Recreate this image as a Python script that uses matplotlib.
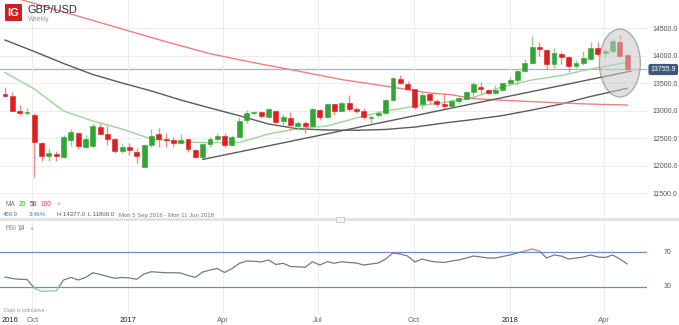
import matplotlib
matplotlib.use('Agg')
import matplotlib.pyplot as plt
import matplotlib.dates as mdates
from matplotlib.patches import Ellipse, Rectangle
import numpy as np
import pandas as pd

plt.rcParams['font.family'] = ['Liberation Sans', 'DejaVu Sans']

# weekly GBP/USD candles, Mon 5 Sep 2016 .. Mon 23 Apr 2018
opens = [13305, 13270, 13000, 12955, 12920, 12410, 12180, 12220, 12165, 12470,
         12600, 12350, 12360, 12705, 12580, 12490, 12270, 12340, 12255, 11980,
         12380, 12575, 12490, 12470, 12410, 12480, 12290, 12165, 12400, 12480,
         12545, 12380, 12530, 12830, 12950, 12970, 12880, 13000, 12805, 12860,
         12725, 12770, 12725, 13015, 12885, 13115, 13000, 13135, 13040, 13000,
         12860, 12920, 12955, 13195, 13570, 13480, 13390, 13120, 13300, 13180,
         13125, 13085, 13180, 13215, 13345, 13435, 13375, 13330, 13380, 13500,
         13565, 13730, 13860, 14150, 14100, 13845, 14025, 13985, 13815, 13860,
         13935, 14135, 14045, 14090, 14245, 14010]
highs = [13440, 13340, 13110, 13050, 12955, 12440, 12330, 12270, 12560, 12670,
         12620, 12560, 12780, 12775, 12720, 12500, 12410, 12420, 12330, 12390,
         12670, 12690, 12590, 12530, 12575, 12490, 12300, 12420, 12530, 12600,
         12600, 12560, 12880, 13010, 12995, 12990, 13050, 13010, 12935, 12980,
         12815, 12820, 13045, 13030, 13130, 13130, 13160, 13290, 13060, 13050,
         12920, 12990, 13220, 13615, 13655, 13540, 13400, 13340, 13340, 13220,
         13320, 13220, 13270, 13355, 13530, 13525, 13400, 13460, 13510, 13610,
         13745, 13945, 14350, 14245, 14130, 14145, 14070, 14000, 13930, 14090,
         14245, 14245, 14125, 14295, 14377, 14030]
lows = [13245, 12990, 12920, 12925, 11800, 12090, 12090, 12080, 12150, 12360,
        12300, 12320, 12340, 12560, 12370, 12230, 12230, 12200, 12045, 11980,
        12340, 12340, 12350, 12350, 12400, 12250, 12135, 12115, 12350, 12455,
        12350, 12365, 12520, 12770, 12920, 12870, 12870, 12775, 12740, 12650,
        12650, 12590, 12700, 12840, 12860, 12930, 12990, 13000, 12950, 12850,
        12775, 12880, 12940, 13180, 13480, 13380, 13030, 13040, 13120, 13075,
        13040, 13060, 13130, 13200, 13225, 13300, 13300, 13300, 13360, 13460,
        13460, 13700, 13850, 14000, 13765, 13770, 13855, 13710, 13780, 13840,
        13920, 14000, 13965, 14050, 13980, 13730]
closes = [13265, 13000, 12960, 12975, 12440, 12180, 12225, 12185, 12515, 12610,
          12360, 12485, 12725, 12580, 12490, 12275, 12345, 12285, 12185, 12375,
          12545, 12490, 12475, 12410, 12465, 12300, 12165, 12395, 12480, 12545,
          12380, 12525, 12810, 12950, 12985, 12905, 13035, 12800, 12890, 12745,
          12780, 12725, 13030, 12885, 13115, 12995, 13145, 13025, 13000, 12890,
          12895, 12955, 13195, 13600, 13510, 13395, 13075, 13295, 13195, 13120,
          13080, 13175, 13225, 13345, 13480, 13390, 13330, 13380, 13500, 13565,
          13730, 13860, 14160, 14125, 13845, 14040, 13985, 13815, 13860, 13950,
          14135, 14030, 14090, 14265, 14000, 13756]

# moving averages, sampled every few weeks (index into the candles)
ma_idx = [0, 4, 8, 12, 16, 20, 24, 28, 32, 36, 40, 44, 48, 52, 56, 60, 64, 68, 72, 76, 80, 85]
ma20 = [13695, 13395, 12995, 12813, 12668, 12486, 12432, 12419, 12423, 12577, 12675,
        12723, 12868, 12995, 13081, 13150, 13240, 13440, 13558, 13640, 13758, 13880]
ma50 = [14285, 14076, 13858, 13658, 13504, 13359, 13195, 13050, 12910, 12759, 12672,
        12650, 12645, 12660, 12704, 12777, 12841, 12913, 13013, 13122, 13259, 13408]
ma100_idx = [0, 4, 10, 16, 22, 28, 34, 40, 46, 52, 58, 61, 64, 70, 73, 76, 79, 82, 84, 85]
ma100 = [15104, 14948, 14718, 14485, 14254, 14036, 13873, 13722, 13566, 13446, 13322,
         13290, 13219, 13177, 13160, 13141, 13125, 13113, 13108, 13104]

rsi = [41.4, 39.7, 38.8, 38.6, 28.9, 24.9, 25.4, 25.7, 38.0, 41.0,
       38.0, 40.9, 46.3, 44.3, 42.0, 40.0, 40.9, 40.3, 38.8, 44.9,
       47.5, 46.8, 46.3, 46.3, 46.0, 43.1, 41.0, 47.1, 49.4, 51.1,
       46.6, 51.1, 56.9, 59.7, 59.4, 58.6, 60.9, 55.7, 57.1, 53.4,
       53.1, 52.5, 58.9, 55.1, 58.9, 57.1, 58.9, 58.0, 57.4, 55.1,
       56.3, 57.4, 62.0, 68.9, 67.7, 65.4, 58.6, 62.0, 59.7, 58.6,
       58.0, 59.7, 60.9, 63.1, 65.4, 64.3, 63.1, 63.1, 64.9, 66.6,
       68.9, 71.1, 73.4, 71.1, 63.1, 66.6, 65.4, 62.0, 63.1, 64.3,
       66.6, 64.3, 63.7, 66.6, 62.0, 56.3]

# trendline from the March 2017 low
trend_idx = [27, 85.5]
trend_val = [12115, 13720]

last_price = 13755.9
price_ticks = [11500, 12000, 12500, 13000, 13500, 14000, 14500]
quarter_dates = ['2016-10-01', '2017-01-01', '2017-04-01', '2017-07-01',
                 '2017-10-01', '2018-01-01', '2018-04-01']
quarter_labels = ['Oct', '2017', 'Apr', 'Jul', 'Oct', '2018', 'Apr']

W, H = 679, 325
fig = plt.figure(figsize=(W / 100, H / 100), dpi=100)


def fx(px):
    return px / W


def fy(py):
    return 1 - py / H


ax = fig.add_axes([0, fy(217), fx(647), 217 / H])
rsi_ax = fig.add_axes([0, fy(313), fx(647), (313 - 222) / H])

dates = pd.date_range('2016-09-05', periods=len(closes), freq='7D')
x = mdates.date2num(dates)
day0 = x[0]
px_per_day = 1.0457
left = day0 - 4.8
right = left + 647 / px_per_day


def idx_to_x(i):
    return day0 + np.asarray(i, dtype=float) * 7


o = np.array(opens, float)
hi = np.array(highs, float)
lo = np.array(lows, float)
c = np.array(closes, float)
up = c >= o
green, red = '#33a532', '#df1f1f'
cols = np.where(up, green, red)
wick_cols = np.where(up, '#8fd08e', '#f08a8a')

ax.vlines(x, lo, hi, colors=wick_cols, lw=1.0, zorder=3)
body_h = np.maximum(np.abs(c - o), 10)
ax.bar(x, body_h, bottom=np.minimum(o, c), width=4.7, color=cols,
       edgecolor=cols, lw=0.4, zorder=4)

ax.plot(idx_to_x(ma_idx), ma20, color='#9bd69a', lw=1.0, zorder=2)
ax.plot(idx_to_x(ma_idx), ma50, color='#5a5a5a', lw=1.0, zorder=2)
ax.plot(idx_to_x(ma100_idx), ma100, color='#ef7f7f', lw=1.0, zorder=2)
ax.plot(idx_to_x(trend_idx), trend_val, color='#5a5a5a', lw=1.0, zorder=5)

ax.axhline(last_price, color='#a9b1c0', lw=0.9, zorder=1)

ell = Ellipse((idx_to_x(84.0), 13867), width=41 / px_per_day, height=68 * 18.17,
              facecolor='#c8c8c8', edgecolor='#6e6e6e', alpha=0.55, lw=0.9, zorder=6)
ax.add_patch(ell)

ax.set_xlim(left, right)
ax.set_ylim(14000 - (217 - 55.7) * 18.17, 14000 + 55.7 * 18.17)
ax.yaxis.tick_right()
ax.set_yticks(price_ticks)
ax.set_yticklabels([f'{p:.1f}' for p in price_ticks])
ax.tick_params(axis='y', length=0, labelsize=5.0, labelcolor='#555555', pad=4)
qx = mdates.date2num(pd.to_datetime(quarter_dates))
ax.set_xticks(qx)
ax.tick_params(axis='x', length=0, labelbottom=False)
ax.grid(color='#ededed', lw=0.7)
for s in ax.spines.values():
    s.set_visible(False)

# RSI pane
rsi_ax.set_xlim(left, right)
rsi_ax.set_ylim(30 - 26 * 40 / 35, 70 + 30 * 40 / 35)
rsi_ax.axhline(70, color='#6b8fc4', lw=0.9)
rsi_ax.axhline(30, color='#6b8fc4', lw=0.9)
for lo_band, hi_band, col in [(30, 70, '#7a7a7a'), (70, 120, '#e87070'), (-20, 30, '#7fd07f')]:
    ln, = rsi_ax.plot(x, rsi, color=col, lw=0.9)
    clip = Rectangle((left, lo_band), right - left, hi_band - lo_band,
                     transform=rsi_ax.transData)
    ln.set_clip_path(clip)
rsi_ax.set_xticks(qx)
rsi_ax.set_xticklabels(quarter_labels)
for lbl in rsi_ax.get_xticklabels():
    lbl.set_color('#222222' if lbl.get_text().isdigit() else '#666666')
rsi_ax.tick_params(axis='x', length=0, labelsize=5.5, pad=3)
rsi_ax.set_yticks([])
rsi_ax.grid(axis='x', color='#ededed', lw=0.7)
for s in rsi_ax.spines.values():
    s.set_visible(False)

# pane divider
fig.patches.append(Rectangle((0, fy(221)), 1, 3.5 / H, transform=fig.transFigure,
                             facecolor='#e4e4e4', edgecolor='none'))
fig.patches.append(Rectangle((fx(336), fy(222)), 8 / W, 5 / H, transform=fig.transFigure,
                             facecolor='#f4f4f4', edgecolor='#bdbdbd', lw=0.5))

# header
fig.patches.append(Rectangle((fx(5), fy(21)), 17 / W, 17 / H, transform=fig.transFigure,
                             facecolor='#d01f1f', edgecolor='none'))
fig.text(fx(13.5), fy(12.5), 'IG', color='white', fontsize=8, fontweight='bold',
         ha='center', va='center')
fig.text(fx(28), fy(10), 'GBP/USD', color='#333333', fontsize=8, va='center')
fig.text(fx(28), fy(19.5), 'Weekly', color='#9a9a9a', fontsize=4.8, va='center')

# last price tag
fig.text(fx(650.5), fy(69.5), f'{last_price:.1f}', color='white', fontsize=5.0,
         va='center', ha='left',
         bbox=dict(boxstyle='round,pad=0.3', facecolor='#40597a', edgecolor='none'))

# indicator legends
y_ma = fy(204)
fig.text(fx(6), y_ma, 'MA', color='#777777', fontsize=4.8, va='center')
fig.text(fx(19), y_ma, '20', color='#3aa83a', fontsize=4.8, va='center')
fig.text(fx(30), y_ma, '50', color='#444444', fontsize=4.8, va='center')
fig.text(fx(41), y_ma, '100', color='#e04040', fontsize=4.8, va='center')
fig.text(fx(57), y_ma, '×', color='#999999', fontsize=4.8, va='center')
y_st = fy(215)
fig.text(fx(3), y_st, '459.9', color='#3a78c0', fontsize=4.3, va='center')
fig.text(fx(29), y_st, '3.46%', color='#3a78c0', fontsize=4.3, va='center')
fig.text(fx(57), y_st, 'H 14377.0', color='#555555', fontsize=4.3, va='center')
fig.text(fx(88), y_st, 'L 11800.0', color='#555555', fontsize=4.3, va='center')
fig.text(fx(119), y_st, 'Mon 5 Sep 2016 - Mon 11 Jun 2018', color='#777777',
         fontsize=4.3, va='center')

fig.text(fx(6), fy(229), 'RSI', color='#888888', fontsize=4.8, va='center')
fig.text(fx(18), fy(229), '14', color='#666666', fontsize=4.8, va='center')
fig.text(fx(30), fy(229), '×', color='#999999', fontsize=4.8, va='center')
fig.text(fx(664), fy(252), '70', color='#555555', fontsize=5, va='center')
fig.text(fx(664), fy(287), '30', color='#555555', fontsize=5, va='center')

fig.text(fx(4), fy(311), 'Data is indicative', color='#999999', fontsize=3.8, va='center')
fig.text(fx(2), fy(320), '2016', color='#222222', fontsize=5.5, va='center')

fig.savefig('out.png', dpi=100)
